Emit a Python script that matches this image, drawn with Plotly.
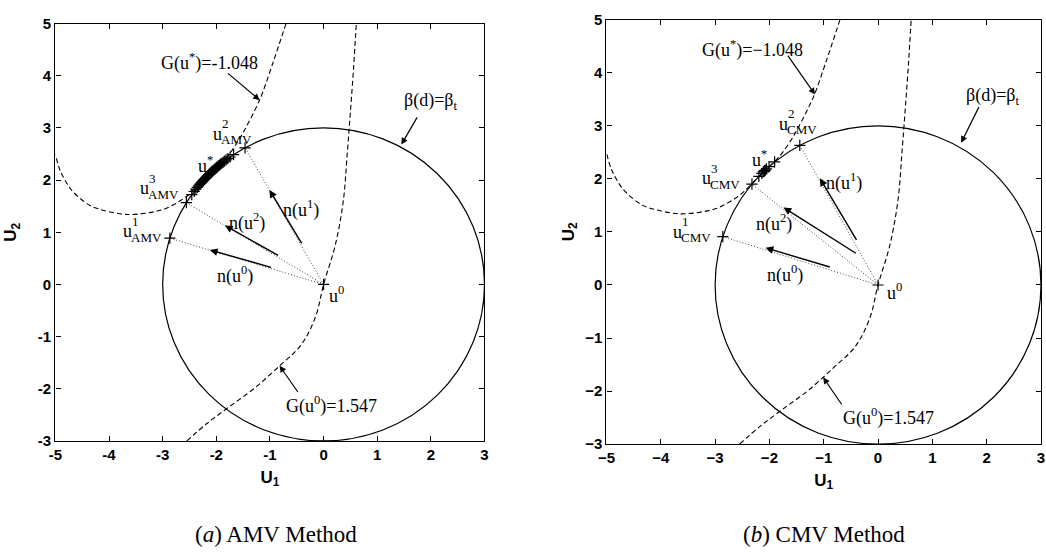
import math
import plotly.graph_objects as go

# ---------------- data ----------------
BETA_T = 3.0  # target reliability index (circle radius)

# level set G(u) = -1.048 (through u*)
g_star_u1 = [-0.70, -0.95, -1.19, -1.56, -1.81, -2.18, -2.55, -2.98, -3.65, -4.33, -4.70, -4.91, -5.0]
g_star_u2 = [5.0, 4.23, 3.54, 2.80, 2.43, 2.06, 1.69, 1.44, 1.34, 1.50, 1.81, 2.18, 2.49]

# level set G(u) = 1.547 (through u0)
g0_u1 = [-2.55, -2.18, -1.78, -1.29, -0.82, -0.42, -0.15, 0.0, 0.22, 0.37, 0.44, 0.50, 0.56, 0.61]
g0_u2 = [-3.0, -2.67, -2.36, -1.99, -1.56, -1.16, -0.62, 0.0, 0.76, 1.62, 2.49, 3.30, 4.16, 5.0]

# iterates on the beta-circle, polar angle in degrees
amv_angles = [162.8, 119.2, 148.5, 124.0, 145.0, 125.5, 143.5, 126.5, 142.5, 127.3,
              141.7, 128.0, 141.0, 128.6, 140.3, 129.2, 139.7, 129.8, 139.2, 130.3,
              138.7, 130.8, 138.2, 131.3, 137.8, 131.7, 137.4, 132.1, 137.0, 132.5,
              136.6, 132.9, 136.2, 133.3, 135.9, 133.6, 135.6, 133.9, 135.3, 134.2,
              135.0, 134.5, 134.8]
cmv_angles = [162.3, 118.7, 140.7, 129.4, 137.0, 132.0, 135.5, 133.2, 134.8, 133.8,
              134.4, 134.1]

# normal-vector arrows: (tail u1, tail u2, head u1, head u2)
amv_normals = [(-0.95, 0.32, -2.12, 0.66), (-0.39, 0.76, -1.01, 1.81), (-0.82, 0.54, -1.84, 1.13)]
cmv_normals = [(-0.86, 0.33, -2.07, 0.70), (-0.38, 0.82, -1.07, 2.01), (-0.38, 0.58, -1.74, 1.46)]
normal_labels = ["n(u<sup>0</sup>)", "n(u<sup>1</sup>)", "n(u<sup>2</sup>)"]
amv_normal_label_pos = [(-1.65, 0.19), (-0.42, 1.44), (-1.42, 1.19)]
cmv_normal_label_pos = [(-1.71, 0.20), (-0.62, 1.94), (-1.91, 1.16)]

# curve callouts: text, text position, arrow tail, arrow head
amv_callouts = [
    ("G(u<sup>*</sup>)=-1.048", (-2.12, 4.26), (-1.81, 4.07), (-1.19, 3.53)),
    ("β(d)=β<sub>t</sub>", (1.99, 3.51), (1.76, 3.23), (1.45, 2.68)),
    ("G(u<sup>0</sup>)=1.547", (0.14, -2.31), (-0.46, -2.09), (-0.82, -1.56)),
]
cmv_callouts = [
    ("G(u<sup>*</sup>)=−1.048", (-2.31, 4.44), (-1.68, 4.35), (-1.16, 3.59)),
    ("β(d)=β<sub>t</sub>", (2.11, 3.55), (1.87, 3.38), (1.53, 2.68)),
    ("G(u<sup>0</sup>)=1.547", (0.20, -2.48), (-0.65, -2.28), (-1.01, -1.74)),
]

# point labels (left edge of "u", vertical centre of "u")
amv_point_labels = [("1", "AMV", -3.75, 1.02), ("2", "AMV", -2.08, 2.89), ("3", "AMV", -3.45, 1.84)]
cmv_point_labels = [("1", "CMV", -3.80, 1.00), ("2", "CMV", -1.84, 3.04), ("3", "CMV", -3.26, 2.01)]
amv_ustar_pos = (-2.36, 2.30)
cmv_ustar_pos = (-2.34, 2.39)
amv_u0_pos = (0.08, -0.20)
cmv_u0_pos = (0.15, -0.12)

x_ticks = [-5, -4, -3, -2, -1, 0, 1, 2, 3]
y_ticks = [-3, -2, -1, 0, 1, 2, 3, 4, 5]
x_ticktext_a = ["-5", "-4", "-3", "-2", "-1", "0", "1", "2", "3"]
y_ticktext_a = ["-3", "-2", "-1", "0", "1", "2", "3", "4", "5"]
x_ticktext_b = ["−5", "−4", "−3", "−2", "−1", "0", "1", "2", "3"]
y_ticktext_b = ["−3", "−2", "−1", "0", "1", "2", "3", "4", "5"]
captions = ["(<i>a</i>) AMV Method", "(<i>b</i>) CMV Method"]

# ---------------- figure ----------------
SERIF = "Liberation Serif"
SANS = "Liberation Sans"
fig = go.Figure()
annotations = []
shapes = []


def add_panel(xa, ya, angles, normals, nlabel_pos, callouts, plabels, ustar_pos, u0_pos):
    xref, yref = xa, ya
    pts = [(BETA_T * math.cos(math.radians(a)), BETA_T * math.sin(math.radians(a))) for a in angles]
    dash = "5px,3px"
    fig.add_trace(go.Scatter(x=g_star_u1, y=g_star_u2, mode="lines", xaxis=xa, yaxis=ya,
                             line=dict(color="black", width=1.1, dash=dash, shape="spline", smoothing=0.8),
                             showlegend=False, hoverinfo="skip"))
    fig.add_trace(go.Scatter(x=g0_u1, y=g0_u2, mode="lines", xaxis=xa, yaxis=ya,
                             line=dict(color="black", width=1.1, dash=dash, shape="spline", smoothing=1.0),
                             showlegend=False, hoverinfo="skip"))
    # dotted rays from u0 to first three iterates
    rx, ry = [], []
    for p in pts[:3]:
        rx += [0, p[0], None]
        ry += [0, p[1], None]
    fig.add_trace(go.Scatter(x=rx, y=ry, mode="lines", xaxis=xa, yaxis=ya,
                             line=dict(color="#444", width=1, dash="1px,2px"),
                             showlegend=False, hoverinfo="skip"))
    # iterates
    fig.add_trace(go.Scatter(x=[p[0] for p in pts], y=[p[1] for p in pts], mode="markers",
                             xaxis=xa, yaxis=ya,
                             marker=dict(symbol="cross-thin", size=8, line=dict(color="black", width=1.2)),
                             showlegend=False, hoverinfo="skip"))
    fig.add_trace(go.Scatter(x=[0], y=[0], mode="markers", xaxis=xa, yaxis=ya,
                             marker=dict(symbol="cross-thin", size=8, line=dict(color="black", width=1.2)),
                             showlegend=False, hoverinfo="skip"))
    shapes.append(dict(type="circle", xref=xref, yref=yref, x0=-BETA_T, y0=-BETA_T, x1=BETA_T, y1=BETA_T,
                       line=dict(color="black", width=1.2), layer="above"))
    tf = dict(family=SERIF, size=18, color="black")
    # normal arrows
    for (tx, ty, hx, hy), lab, (lx, ly) in zip(normals, normal_labels, nlabel_pos):
        annotations.append(dict(x=hx, y=hy, ax=tx, ay=ty, xref=xref, yref=yref, axref=xref, ayref=yref,
                                text="", showarrow=True, arrowhead=2, arrowsize=1.1, arrowwidth=1.4,
                                arrowcolor="black"))
        annotations.append(dict(x=lx, y=ly, xref=xref, yref=yref, text=lab, showarrow=False, font=tf))
    # callouts
    for lab, (lx, ly), (tx, ty), (hx, hy) in callouts:
        annotations.append(dict(x=hx, y=hy, ax=tx, ay=ty, xref=xref, yref=yref, axref=xref, ayref=yref,
                                text="", showarrow=True, arrowhead=2, arrowsize=1.1, arrowwidth=1.2,
                                arrowcolor="black"))
        annotations.append(dict(x=lx, y=ly, xref=xref, yref=yref, text=lab, showarrow=False, font=tf))
    # stacked point labels
    for sup, sub, lx, ly in plabels:
        annotations.append(dict(x=lx, y=ly, xref=xref, yref=yref, text="u", showarrow=False,
                                xanchor="left", yanchor="middle", font=tf, borderpad=0))
        annotations.append(dict(x=lx, y=ly, xref=xref, yref=yref, text=sup, showarrow=False,
                                xanchor="left", yanchor="middle", xshift=9, yshift=10,
                                font=dict(family=SERIF, size=13, color="black"), borderpad=0))
        annotations.append(dict(x=lx, y=ly, xref=xref, yref=yref, text=sub, showarrow=False,
                                xanchor="left", yanchor="middle", xshift=8, yshift=-6,
                                font=dict(family=SERIF, size=13, color="black"), borderpad=0))
    annotations.append(dict(x=ustar_pos[0], y=ustar_pos[1], xref=xref, yref=yref, text="u<sup>*</sup>",
                            showarrow=False, xanchor="left", yanchor="middle", font=tf, borderpad=0))
    annotations.append(dict(x=u0_pos[0], y=u0_pos[1], xref=xref, yref=yref, text="u<sup>0</sup>",
                            showarrow=False, xanchor="left", yanchor="middle", font=tf, borderpad=0))


add_panel("x", "y", amv_angles, amv_normals, amv_normal_label_pos, amv_callouts,
          amv_point_labels, amv_ustar_pos, amv_u0_pos)
add_panel("x2", "y2", cmv_angles, cmv_normals, cmv_normal_label_pos, cmv_callouts,
          cmv_point_labels, cmv_ustar_pos, cmv_u0_pos)

for cx, cap in zip([0.258, 0.789], captions):
    annotations.append(dict(x=cx, y=0.018, xref="paper", yref="paper", text=cap, showarrow=False,
                            xanchor="center", yanchor="middle",
                            font=dict(family=SERIF, size=23, color="black")))

tickfont = dict(family=SANS, size=15, color="black", weight="bold")
titlefont = dict(family=SANS, size=17, color="black", weight="bold")
axis_common = dict(showline=True, linecolor="black", linewidth=1.4, mirror="ticks", ticks="inside",
                   ticklen=5, tickwidth=1, tickcolor="black", showgrid=False, zeroline=False,
                   tickfont=tickfont)

fig.update_layout(
    width=1046, height=552, margin=dict(l=0, r=0, t=0, b=0),
    paper_bgcolor="white", plot_bgcolor="white", showlegend=False,
    xaxis=dict(domain=[0.0449, 0.4603], range=[-5, 3], tickvals=x_ticks, ticktext=x_ticktext_a,
               title=dict(text="U<sub>1</sub>", font=titlefont, standoff=8), anchor="y", **axis_common),
    yaxis=dict(domain=[0.1926, 0.9728], range=[-3, 5], tickvals=y_ticks, ticktext=y_ticktext_a,
               title=dict(text="U<sub>2</sub>", font=titlefont, standoff=16), anchor="x", **axis_common),
    xaxis2=dict(domain=[0.5784, 0.9990], range=[-5, 3], tickvals=x_ticks, ticktext=x_ticktext_b,
                title=dict(text="U<sub>1</sub>", font=titlefont, standoff=8), anchor="y2", **axis_common),
    yaxis2=dict(domain=[0.1866, 0.9801], range=[-3, 5], tickvals=y_ticks, ticktext=y_ticktext_b,
                title=dict(text="U<sub>2</sub>", font=titlefont, standoff=6), anchor="x2", **axis_common),
    annotations=annotations, shapes=shapes,
)

fig.write_html("out.html")
